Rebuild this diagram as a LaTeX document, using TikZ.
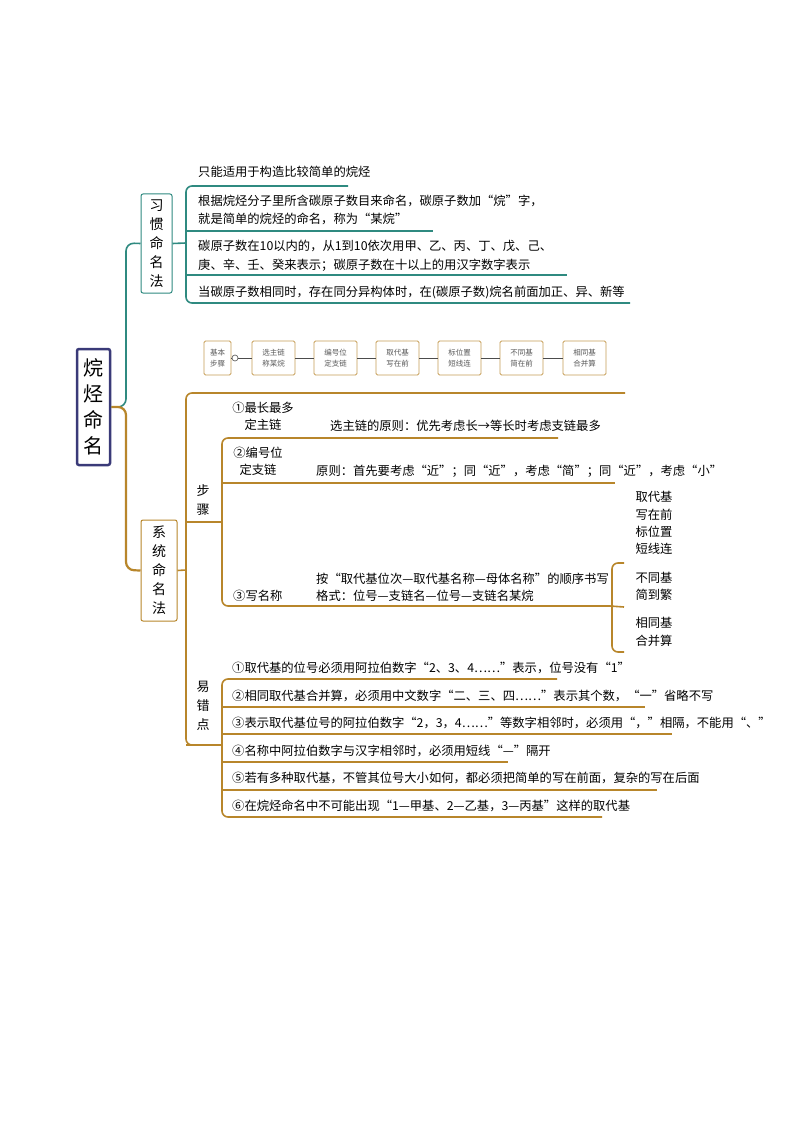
\documentclass[tikz,border=0pt]{standalone}
\usepackage{fontspec}
\setmainfont{Noto Sans CJK SC}
\begin{document}
\begin{tikzpicture}[x=1pt,y=-1pt,
  teal/.style={draw=tealc,line width=1.6pt},
  gold/.style={draw=goldc,line width=1.6pt},
  txt/.style={anchor=base west,inner sep=0pt,font=\fontsize{12.3}{15}\selectfont},
  vbox/.style={draw,rounded corners=2pt,line width=1pt,align=center,inner sep=2pt,font=\fontsize{14}{19}\selectfont},
  sbox/.style={draw=goldc!80,line width=0.9pt,rounded corners=1.5pt,minimum width=43pt,minimum height=34pt,inner sep=1pt,align=center,text=black!65,font=\fontsize{7.5}{11}\selectfont},
  vt/.style={align=center,inner sep=1pt,font=\fontsize{13}{19}\selectfont}]
\definecolor{tealc}{HTML}{2F8A80}
\definecolor{goldc}{HTML}{B8862B}
\definecolor{navy}{HTML}{3A3A78}
\useasboundingbox[fill=white] (0,0) rectangle (794,1123);
% root
\node[vbox,draw=navy,line width=2.5pt,minimum width=33pt,minimum height=116pt,font=\fontsize{20}{26}\selectfont] (root) at (93.5,407) {烷\\烃\\命\\名};
\node[vbox,draw=tealc,minimum width=31pt,minimum height=99pt] (xg) at (156.5,243.5) {习\\惯\\命\\名\\法};
\node[vbox,draw=goldc,minimum width=36pt,minimum height=101pt] (xt) at (159,570.5) {系\\统\\命\\名\\法};
\draw[teal,rounded corners=8pt] (root.east) -- (126,407) -- (126,243) -- (xg.west);
\draw[gold,line width=2.2pt,rounded corners=8pt] (root.east) -- (126,407) -- (126,570) -- (xt.west);
% habitual children
\draw[teal,rounded corners=6pt] (348,186) -- (186,186) -- (186,303) -- (630,303);
\draw[teal] (xg.east) -- (186,243);
\draw[teal] (186,231) -- (433,231);
\draw[teal] (186,275) -- (567,275);
\node[txt] (h1) at (198,177) {只能适用于构造比较简单的烷烃};
\node[txt] (h2) at (198,206) {根据烷烃分子里所含碳原子数目来命名，碳原子数加“烷”字，};
\node[txt] (h2b) at (198,223) {就是简单的烷烃的命名，称为“某烷”};
\node[txt] (h3) at (198,251) {碳原子数在10以内的，从1到10依次用甲、乙、丙、丁、戊、己、};
\node[txt] (h3b) at (198,269) {庚、辛、壬、癸来表示；碳原子数在十以上的用汉字数字表示};
\node[txt] (h4) at (198,296) {当碳原子数相同时，存在同分异构体时，在(碳原子数)烷名前面加正、异、新等};
% step chain
\node[sbox,minimum width=27pt] (s0) at (217.5,358) {基本\\步骤};
\node[sbox] (s1) at (273.5,358) {选主链\\称某烷};
\node[sbox] (s2) at (335.5,358) {编号位\\定支链};
\node[sbox] (s3) at (397.5,358) {取代基\\写在前};
\node[sbox] (s4) at (459.5,358) {标位置\\短线连};
\node[sbox] (s5) at (521.5,358) {不同基\\简在前};
\node[sbox] (s6) at (584.5,358) {相同基\\合并算};
\node[circle,draw=black!60,line width=0.7pt,inner sep=0pt,minimum size=6pt,fill=white] (sc) at (235,358) {};
\draw[black!70,line width=0.9pt] (sc) -- (s1) (s1) -- (s2) (s2) -- (s3) (s3) -- (s4) (s4) -- (s5) (s5) -- (s6);
\draw[black!70,line width=0.9pt] (sc.west) -- (s0.east);
% systematic
\draw[gold,rounded corners=6pt] (625,393) -- (186,393) -- (186,745) -- (200,745);
\draw[gold] (xt.east) -- (186,570);
\node[vt] (bz) at (203,500) {步\\骤};
\node[vt] (yc) at (203,706) {易\\错\\点};
\draw[gold] (186,522) -- (222,522);
\draw[gold,rounded corners=6pt] (558,438) -- (222,438) -- (222,606) -- (600,606);
\draw[gold] (222,483) -- (615,483);
\node[vt,font=\fontsize{12.3}{17}\selectfont] (a1) at (263,416) {①最长最多\\定主链};
\node[txt] (a1t) at (330,430) {选主链的原则：优先考虑长→等长时考虑支链最多};
\node[vt,font=\fontsize{12.3}{17}\selectfont] (a2) at (258,461) {②编号位\\定支链};
\node[txt] (a2t) at (316,475) {原则：首先要考虑“近”；同“近”，考虑“简”；同“近”，考虑“小”};
\node[txt] (a3) at (233,600) {③写名称};
\node[txt] (a3t) at (316,583) {按“取代基位次—取代基名称—母体名称”的顺序书写};
\node[txt] (a3u) at (316,600) {格式：位号—支链名—位号—支链名某烷};
\draw[gold,rounded corners=6pt] (600,606) -- (610,606);
\draw[gold,rounded corners=6pt] (624,563) -- (612,563) -- (612,652) -- (624,652);
\draw[gold] (610,606) -- (624,607);
\node[vt,font=\fontsize{12.3}{17.3}\selectfont] (b1) at (654,523) {取代基\\写在前\\标位置\\短线连};
\node[vt,font=\fontsize{12.3}{17.3}\selectfont] (b2) at (654,586) {不同基\\简到繁};
\node[vt,font=\fontsize{12.3}{17.3}\selectfont] (b3) at (654,632) {相同基\\合并算};
% errors
\draw[gold] (186,745) -- (222,745);
\draw[gold,rounded corners=6pt] (557,679) -- (222,679) -- (222,817) -- (602,817);
\draw[gold] (222,707) -- (645,707);
\draw[gold] (222,734) -- (672,734);
\draw[gold] (222,762) -- (508,762);
\draw[gold] (222,790) -- (657,790);
\node[txt] (e1) at (232,672) {①取代基的位号必须用阿拉伯数字“2、3、4……”表示，位号没有“1”};
\node[txt] (e2) at (232,700) {②相同取代基合并算，必须用中文数字“二、三、四……”表示其个数，“一”省略不写};
\node[txt] (e3) at (232,727) {③表示取代基位号的阿拉伯数字“2，3，4……”等数字相邻时，必须用“，”相隔，不能用“、”};
\node[txt] (e4) at (232,755) {④名称中阿拉伯数字与汉字相邻时，必须用短线“—”隔开};
\node[txt] (e5) at (232,782) {⑤若有多种取代基，不管其位号大小如何，都必须把简单的写在前面，复杂的写在后面};
\node[txt] (e6) at (232,810) {⑥在烷烃命名中不可能出现“1—甲基、2—乙基，3—丙基”这样的取代基};
\end{tikzpicture}
\end{document}
